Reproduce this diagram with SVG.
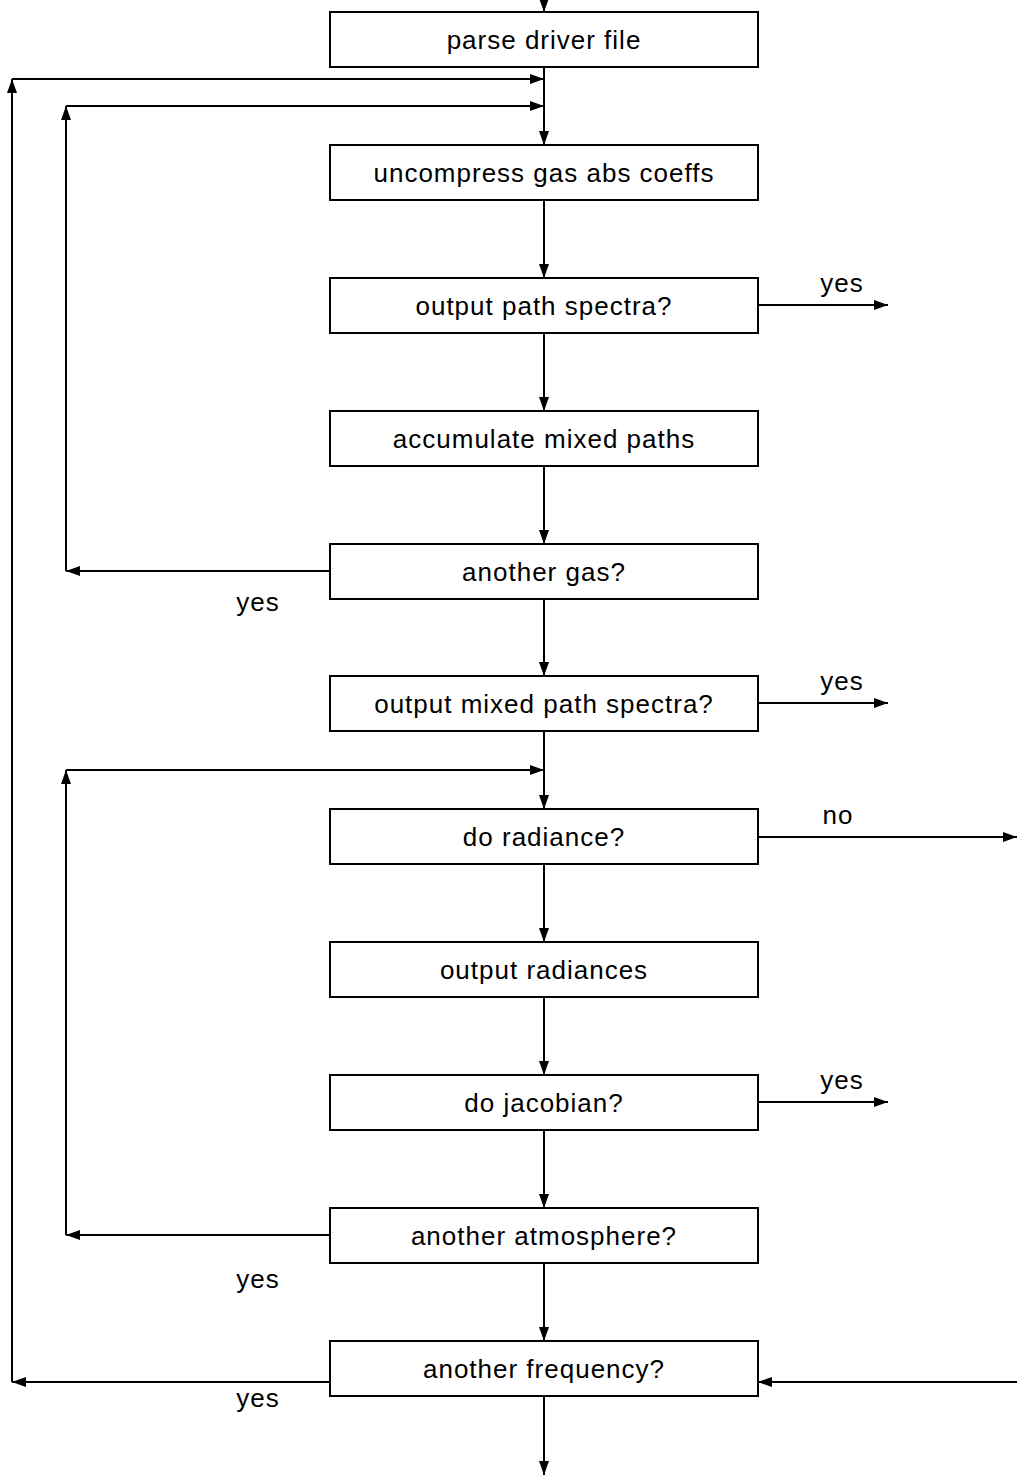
<svg xmlns="http://www.w3.org/2000/svg" width="1017" height="1476" viewBox="0 0 1017 1476">
<style>
.box{fill:#fff;stroke:#000;stroke-width:2}
.ln{fill:none;stroke:#000;stroke-width:2}
.t{font-family:"Liberation Sans",Arial,sans-serif;font-size:26px;letter-spacing:1px;fill:#000;text-anchor:middle}
</style>
<defs>
<marker id="ah" viewBox="0 0 14 10" refX="14" refY="5" markerWidth="14" markerHeight="10" markerUnits="userSpaceOnUse" orient="auto">
<path d="M0,0 L14,5 L0,10 Z" fill="#000"/>
</marker>
</defs>
<rect width="1017" height="1476" fill="#fff"/>
<g id="connectors">
<line class="ln" x1="544" y1="0" x2="544" y2="12" marker-end="url(#ah)"/>
<line class="ln" x1="544" y1="67" x2="544" y2="145" marker-end="url(#ah)"/>
<line class="ln" x1="544" y1="200" x2="544" y2="278" marker-end="url(#ah)"/>
<line class="ln" x1="544" y1="333" x2="544" y2="411" marker-end="url(#ah)"/>
<line class="ln" x1="544" y1="466" x2="544" y2="544" marker-end="url(#ah)"/>
<line class="ln" x1="544" y1="599" x2="544" y2="676" marker-end="url(#ah)"/>
<line class="ln" x1="544" y1="731" x2="544" y2="809" marker-end="url(#ah)"/>
<line class="ln" x1="544" y1="864" x2="544" y2="942" marker-end="url(#ah)"/>
<line class="ln" x1="544" y1="997" x2="544" y2="1075" marker-end="url(#ah)"/>
<line class="ln" x1="544" y1="1130" x2="544" y2="1208" marker-end="url(#ah)"/>
<line class="ln" x1="544" y1="1263" x2="544" y2="1341" marker-end="url(#ah)"/>
<line class="ln" x1="544" y1="1396" x2="544" y2="1475" marker-end="url(#ah)"/>
<line class="ln" x1="12" y1="1382" x2="12" y2="79" marker-end="url(#ah)"/>
<line class="ln" x1="12" y1="79" x2="544" y2="79" marker-end="url(#ah)"/>
<line class="ln" x1="66" y1="571" x2="66" y2="106" marker-end="url(#ah)"/>
<line class="ln" x1="66" y1="106" x2="544" y2="106" marker-end="url(#ah)"/>
<line class="ln" x1="330" y1="571" x2="66" y2="571" marker-end="url(#ah)"/>
<line class="ln" x1="758" y1="305" x2="888" y2="305" marker-end="url(#ah)"/>
<line class="ln" x1="758" y1="703" x2="888" y2="703" marker-end="url(#ah)"/>
<line class="ln" x1="758" y1="837" x2="1017" y2="837" marker-end="url(#ah)"/>
<line class="ln" x1="758" y1="1102" x2="888" y2="1102" marker-end="url(#ah)"/>
<line class="ln" x1="330" y1="1235" x2="66" y2="1235" marker-end="url(#ah)"/>
<line class="ln" x1="66" y1="1235" x2="66" y2="770" marker-end="url(#ah)"/>
<line class="ln" x1="66" y1="770" x2="544" y2="770" marker-end="url(#ah)"/>
<line class="ln" x1="330" y1="1382" x2="12" y2="1382" marker-end="url(#ah)"/>
<line class="ln" x1="1017" y1="1382" x2="758" y2="1382" marker-end="url(#ah)"/>
<text class="t" x="842" y="292">yes</text>
<text class="t" x="842" y="690">yes</text>
<text class="t" x="838" y="824">no</text>
<text class="t" x="842" y="1089">yes</text>
<text class="t" x="258" y="611">yes</text>
<text class="t" x="258" y="1288">yes</text>
<text class="t" x="258" y="1407">yes</text>
</g>
<g id="n1"><rect class="box" x="330" y="12" width="428" height="55"/><text class="t" x="544" y="49">parse driver file</text></g>
<g id="n2"><rect class="box" x="330" y="145" width="428" height="55"/><text class="t" x="544" y="182">uncompress gas abs coeffs</text></g>
<g id="n3"><rect class="box" x="330" y="278" width="428" height="55"/><text class="t" x="544" y="315">output path spectra?</text></g>
<g id="n4"><rect class="box" x="330" y="411" width="428" height="55"/><text class="t" x="544" y="448">accumulate mixed paths</text></g>
<g id="n5"><rect class="box" x="330" y="544" width="428" height="55"/><text class="t" x="544" y="581">another gas?</text></g>
<g id="n6"><rect class="box" x="330" y="676" width="428" height="55"/><text class="t" x="544" y="713">output mixed path spectra?</text></g>
<g id="n7"><rect class="box" x="330" y="809" width="428" height="55"/><text class="t" x="544" y="846">do radiance?</text></g>
<g id="n8"><rect class="box" x="330" y="942" width="428" height="55"/><text class="t" x="544" y="979">output radiances</text></g>
<g id="n9"><rect class="box" x="330" y="1075" width="428" height="55"/><text class="t" x="544" y="1112">do jacobian?</text></g>
<g id="n10"><rect class="box" x="330" y="1208" width="428" height="55"/><text class="t" x="544" y="1245">another atmosphere?</text></g>
<g id="n11"><rect class="box" x="330" y="1341" width="428" height="55"/><text class="t" x="544" y="1378">another frequency?</text></g>
</svg>
